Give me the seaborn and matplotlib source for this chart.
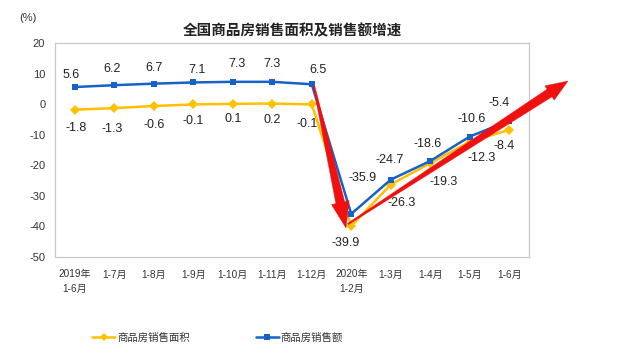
import numpy as np
import pandas as pd
import matplotlib
matplotlib.use("Agg")
import matplotlib.pyplot as plt
import seaborn as sns
from matplotlib.lines import Line2D
from matplotlib.patches import Polygon

categories = ["2019年\n1-6月", "1-7月", "1-8月", "1-9月", "1-10月", "1-11月", "1-12月",
              "2020年\n1-2月", "1-3月", "1-4月", "1-5月", "1-6月"]
area_growth = [-1.8, -1.3, -0.6, -0.1, 0.1, 0.2, -0.1, -39.9, -26.3, -19.3, -12.3, -8.4]
sales_growth = [5.6, 6.2, 6.7, 7.1, 7.3, 7.3, 6.5, -35.9, -24.7, -18.6, -10.6, -5.4]
series_names = ["商品房销售面积", "商品房销售额"]
title = "全国商品房销售面积及销售额增速"

sns.set_style("white")
plt.rcParams['font.family'] = ['Liberation Sans', 'Noto Sans CJK SC', 'DejaVu Sans']

YELLOW = "#FFC000"
BLUE = "#1762C8"
RED = "#F01010"

n = len(categories)
df = pd.DataFrame({
    "idx": list(range(n)) * 2,
    "value": area_growth + sales_growth,
    "series": [series_names[0]] * n + [series_names[1]] * n,
})

W, H = 640, 358
fig = plt.figure(figsize=(6.4, 3.58), dpi=100)
ax = fig.add_axes([55 / W, 1 - 257 / H, 474 / W, 214 / H])

sns.lineplot(data=df, x="idx", y="value", hue="series", style="series",
             palette={series_names[0]: YELLOW, series_names[1]: BLUE},
             markers={series_names[0]: "D", series_names[1]: "s"},
             dashes=False, markersize=5, linewidth=1.8, markeredgewidth=0,
             legend=False, ax=ax)

ax.set_xlim(-0.5, n - 0.5)
ax.set_ylim(-50, 20)
ax.set_yticks(range(-50, 21, 10))
ax.set_yticklabels([str(v) for v in range(-50, 21, 10)], fontsize=8, color="#333333")
ax.set_xticks(range(n))
ax.set_xticklabels(categories, fontsize=7.2, color="#333333", linespacing=1.6)
ax.set_xticks(np.arange(-0.5, n, 1.0), minor=True)
ax.tick_params(axis="x", which="major", length=0, pad=9)
ax.tick_params(axis="x", which="minor", length=3, direction="in", color="#BFBFBF")
ax.tick_params(axis="y", which="major", length=3, direction="out", color="#BFBFBF", pad=4)
ax.set_xlabel("")
ax.set_ylabel("")
for s in ax.spines.values():
    s.set_color("#C8C8C8")
    s.set_linewidth(0.9)

# data labels
sales_off = [(-4, 12), (-2, 16), (0, 16), (4, 12), (4, 18), (0, 18), (6, 14),
             (11, 36), (-1, 20), (-3, 17), (2, 18), (-10, 18)]
area_off = [(1, -18), (-2, -21), (0, -19), (0, -17), (0, -15), (0, -16), (-5, -20),
            (-6, -17), (11, -18), (13, -19), (12, -16), (-5, -16)]
for i in range(n):
    ax.annotate(f"{sales_growth[i]:.1f}", (i, sales_growth[i]), xytext=sales_off[i],
                textcoords="offset pixels", ha="center", va="center", fontsize=9, color="#222222")
    ax.annotate(f"{area_growth[i]:.1f}", (i, area_growth[i]), xytext=area_off[i],
                textcoords="offset pixels", ha="center", va="center", fontsize=9, color="#222222")


# red tapered annotation arrows (defined in figure pixels, top-left origin)
def tapered_arrow(tail, tip, w_tail, w_neck, head_w, head_len):
    T = np.array([tail[0], H - tail[1]], float)
    P = np.array([tip[0], H - tip[1]], float)
    u = (P - T) / np.linalg.norm(P - T)
    nv = np.array([-u[1], u[0]])
    B = P - u * head_len
    pts = [T + nv * w_tail / 2, B + nv * w_neck / 2, B + nv * head_w / 2, P,
           B - nv * head_w / 2, B - nv * w_neck / 2, T - nv * w_tail / 2]
    pts = [(p[0] / W, p[1] / H) for p in pts]
    fig.patches.append(Polygon(pts, closed=True, transform=fig.transFigure,
                               fc=RED, ec=RED, lw=0.3, zorder=10))

tapered_arrow((314, 86), (346, 228), 1.5, 9, 18, 26)
tapered_arrow((348, 224), (568, 81), 1.5, 9, 17, 22)

fig.text(28 / W, 1 - 18 / H, "(%)", fontsize=8, color="#333333", ha="center", va="center")
fig.text(292 / W, 1 - 30 / H, title, fontsize=10.5, fontweight="bold",
         color="#222222", ha="center", va="center", family=["Noto Sans CJK SC"])

handles = [Line2D([0], [0], color=YELLOW, marker="D", markersize=4, lw=1.8, markeredgewidth=0),
           Line2D([0], [0], color=BLUE, marker="s", markersize=4, lw=1.8, markeredgewidth=0)]
fig.legend(handles, series_names, loc="center", bbox_to_anchor=(0.34, 1 - 338 / H),
           ncol=2, frameon=False, fontsize=7.5, handlelength=2.2, handletextpad=0.2,
           columnspacing=6.3, labelcolor="#333333")

fig.savefig("out.png", dpi=100, facecolor="white")
